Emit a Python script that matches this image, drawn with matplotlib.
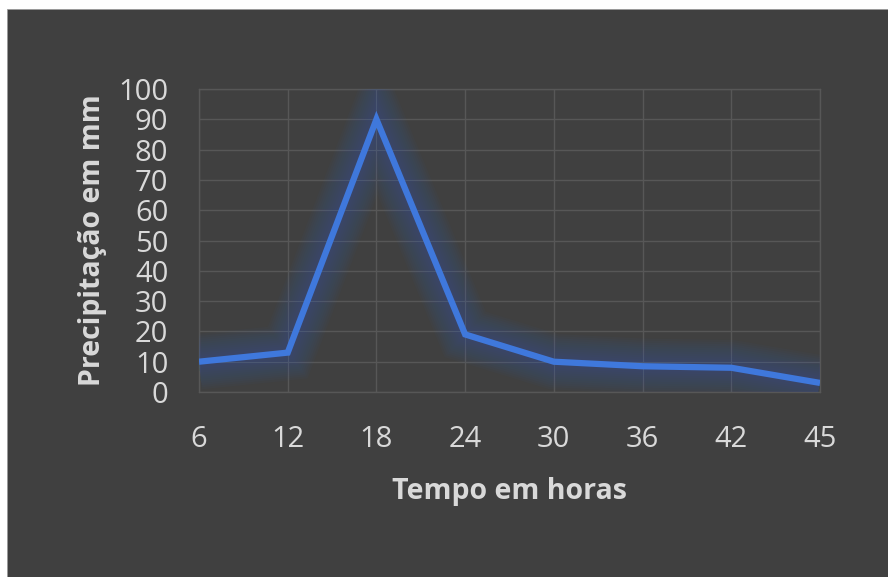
import matplotlib.pyplot as plt
import matplotlib.patheffects as pe
from matplotlib.patches import Rectangle

horas = ['6', '12', '18', '24', '30', '36', '42', '45']
precipitacao = [10, 13, 90, 19, 10, 8.5, 8, 3]

bg = '#404040'
txt = '#d9d9d9'
azul = '#3f78dc'

fig = plt.figure(figsize=(8.88, 5.77), dpi=100, facecolor='white')
# dark panel with a thin white margin on top and left
fig.patches.append(Rectangle((7/888, 0), 1 - 7/888, 1 - 9/577,
                             transform=fig.transFigure, facecolor=bg,
                             edgecolor='#9a9a9a', linewidth=0.6, zorder=-10))

ax = fig.add_axes([199/888, 1 - 392/577, 621/888, 303/577])
ax.set_facecolor(bg)

x = list(range(len(horas)))

# soft blue glow under the line
glow = []
for w in range(40, 6, -3):
    glow.append(pe.Stroke(linewidth=w, foreground='#3a5eb0', alpha=0.04))
glow.append(pe.Normal())

ax.plot(x, precipitacao, color=azul, linewidth=4.5, solid_joinstyle='miter',
        solid_capstyle='butt', path_effects=glow, zorder=3)

ax.set_xlim(0, len(horas) - 1)
ax.set_ylim(0, 100)
ax.set_xticks(x)
ax.set_xticklabels(horas)
ax.set_yticks(range(0, 101, 10))

ax.grid(True, color='#575757', linewidth=1.0)
ax.set_axisbelow(True)
for s in ax.spines.values():
    s.set_color('#575757')
    s.set_linewidth(1.0)

ax.tick_params(length=0, colors=txt, labelsize=21)
ax.tick_params(axis='x', pad=24)
ax.tick_params(axis='y', pad=22)
for lbl in ax.get_xticklabels() + ax.get_yticklabels():
    lbl.set_family('Open Sans')

ax.set_xlabel('Tempo em horas', color=txt, fontsize=20.5, fontweight='bold',
              family='Open Sans', labelpad=16)
ax.set_ylabel('Precipitação em mm', color=txt, fontsize=20.5, fontweight='bold',
              family='Open Sans', labelpad=8)

fig.savefig('out.png', dpi=100, facecolor=fig.get_facecolor())
